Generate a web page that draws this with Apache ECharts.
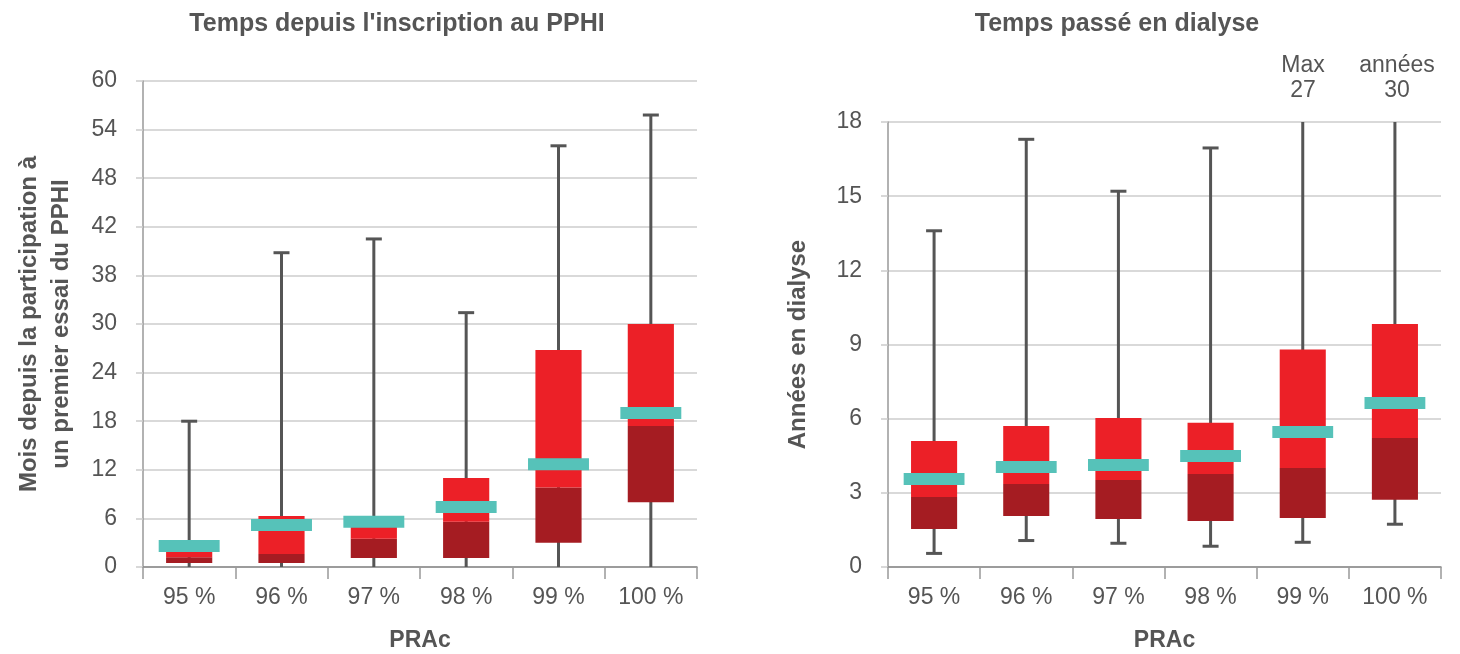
<!DOCTYPE html>
<html lang="fr">
<head>
    <meta charset="UTF-8">
    <title>Temps d'attente selon le PRAc</title>
    <style>
        html, body { margin: 0; padding: 0; background: #fff; }
        #main { width: 1460px; height: 654px; }
    </style>
</head>
<body>
    <div id="main"></div>
    <script src="https://cdn.jsdelivr.net/npm/echarts@6/dist/echarts.min.js"></script>
    <script>
        // catégories PRAc
        const categories = ['95 %', '96 %', '97 %', '98 %', '99 %', '100 %'];

        // gauche : mois depuis l'inscription au PPHI
        const pphiMin  = [0, 0, 0, 0, 0, 0];
        const pphiQ1   = [0.5, 0.5, 1.1, 1.1, 3.0, 8.0];
        const pphiMed  = [1.2, 1.6, 3.5, 5.6, 9.8, 17.4];
        const pphiQ3   = [1.9, 6.3, 5.8, 11.0, 26.8, 30.0];
        const pphiMax  = [18.0, 38.8, 40.5, 31.4, 52.0, 55.8];
        const pphiMean = [2.6, 5.2, 5.6, 7.4, 12.7, 19.0];
        // l'original affiche "38" à la place de 36
        const pphiTicks = ['0', '6', '12', '18', '24', '30', '38', '42', '48', '54', '60'];

        // droite : années en dialyse
        const dialMin  = [0.55, 1.07, 0.96, 0.84, 1.0, 1.73];
        const dialQ1   = [1.54, 2.06, 1.94, 1.86, 1.98, 2.72];
        const dialMed  = [2.83, 3.36, 3.52, 3.76, 4.0, 5.22];
        const dialQ3   = [5.1, 5.7, 6.03, 5.83, 8.8, 9.83];
        const dialMax  = [13.6, 17.3, 15.2, 16.95, 27, 30];
        const dialMean = [3.56, 4.05, 4.13, 4.49, 5.46, 6.63];

        const GREY = '#555';
        const RED = '#ec2027';
        const DARK = '#a51c22';
        const TEAL = '#56c2b9';
        const FONT = 'Liberation Sans, Arial, sans-serif';

        function rows(mn, q1, md, q3, mx, mean) {
            return categories.map((c, i) => [i, mn[i], q1[i], md[i], q3[i], mx[i], mean[i]]);
        }

        function renderBox(params, api) {
            const i = api.value(0);
            const band = api.size([1, 0])[0];
            const pLow = api.coord([i, api.value(1)]);
            const pQ1 = api.coord([i, api.value(2)]);
            const pMed = api.coord([i, api.value(3)]);
            const pQ3 = api.coord([i, api.value(4)]);
            const pHigh = api.coord([i, api.value(5)]);
            const pMean = api.coord([i, api.value(6)]);
            const x = pLow[0];
            const boxW = band * 0.5;
            const meanW = band * 0.66;
            const capW = 16;
            const line = { stroke: GREY, lineWidth: 3 };
            const kids = [
                { type: 'line', shape: { x1: x, y1: pLow[1], x2: x, y2: pHigh[1] }, style: line },
                { type: 'line', shape: { x1: x - capW / 2, y1: pHigh[1], x2: x + capW / 2, y2: pHigh[1] }, style: line }
            ];
            if (api.value(1) > 0) {
                kids.push({ type: 'line', shape: { x1: x - capW / 2, y1: pLow[1], x2: x + capW / 2, y2: pLow[1] }, style: line });
            }
            kids.push(
                { type: 'rect', shape: { x: x - boxW / 2, y: pMed[1], width: boxW, height: pQ1[1] - pMed[1] }, style: { fill: DARK } },
                { type: 'rect', shape: { x: x - boxW / 2, y: pQ3[1], width: boxW, height: pMed[1] - pQ3[1] }, style: { fill: RED } },
                { type: 'rect', shape: { x: x - meanW / 2, y: pMean[1] - 6, width: meanW, height: 12 }, style: { fill: TEAL } }
            );
            return { type: 'group', children: kids };
        }

        function xAxisFor(gridIndex) {
            return {
                type: 'category', gridIndex: gridIndex, data: categories,
                name: 'PRAc', nameLocation: 'middle', nameGap: 62,
                nameTextStyle: { color: GREY, fontSize: 23, fontWeight: 'bold', fontFamily: FONT },
                axisLine: { lineStyle: { color: '#888', width: 1.5 } },
                axisTick: { show: true, length: 12, lineStyle: { color: '#999', width: 1.5 } },
                axisLabel: { color: GREY, fontSize: 23, margin: 19, fontFamily: FONT }
            };
        }

        function yAxisFor(gridIndex, max, interval, name, gap, fmt) {
            return {
                type: 'value', gridIndex: gridIndex, min: 0, max: max, interval: interval,
                name: name, nameLocation: 'middle', nameGap: gap, nameRotate: 90,
                nameTextStyle: { color: GREY, fontSize: 24, fontWeight: 'bold', fontFamily: FONT, lineHeight: 32 },
                axisLine: { show: true, lineStyle: { color: '#999', width: 1.5 } },
                axisTick: { show: true, length: 7, lineStyle: { color: '#ccc', width: 1.5 } },
                axisLabel: { color: GREY, fontSize: 23, margin: 26, fontFamily: FONT, formatter: fmt },
                splitLine: { lineStyle: { color: '#ccc', width: 1.5 } }
            };
        }

        const chart = echarts.init(document.getElementById('main'));
        chart.setOption({
            animation: false,
            title: [
                { text: "Temps depuis l'inscription au PPHI", left: 392, top: 7, textAlign: 'center',
                  textStyle: { color: GREY, fontSize: 25, fontWeight: 'bold', fontFamily: FONT } },
                { text: 'Temps passé en dialyse', left: 1112, top: 7, textAlign: 'center',
                  textStyle: { color: GREY, fontSize: 25, fontWeight: 'bold', fontFamily: FONT } }
            ],
            grid: [
                { left: 143, right: 763, top: 81, bottom: 87, outerBoundsMode: 'none' },
                { left: 888, right: 19, top: 122, bottom: 87, outerBoundsMode: 'none' }
            ],
            xAxis: [xAxisFor(0), xAxisFor(1)],
            yAxis: [
                yAxisFor(0, 60, 6, 'Mois depuis la participation à\nun premier essai du PPHI', 66,
                    (v) => pphiTicks[Math.round(v / 6)]),
                yAxisFor(1, 18, 3, 'Années en dialyse', 74, null)
            ],
            graphic: [
                { type: 'text', x: 1303, y: 53, style: { text: 'Max\n27', fill: GREY, font: '23px ' + FONT, align: 'center', lineHeight: 25 } },
                { type: 'text', x: 1397, y: 53, style: { text: 'années\n30', fill: GREY, font: '23px ' + FONT, align: 'center', lineHeight: 25 } }
            ],
            series: [
                { type: 'custom', xAxisIndex: 0, yAxisIndex: 0, clip: true, renderItem: renderBox,
                  encode: { x: 0, y: [1, 5] },
                  data: rows(pphiMin, pphiQ1, pphiMed, pphiQ3, pphiMax, pphiMean) },
                { type: 'custom', xAxisIndex: 1, yAxisIndex: 1, clip: true, renderItem: renderBox,
                  encode: { x: 0, y: [1, 5] },
                  data: rows(dialMin, dialQ1, dialMed, dialQ3, dialMax, dialMean) }
            ]
        });
    </script>
</body>
</html>
